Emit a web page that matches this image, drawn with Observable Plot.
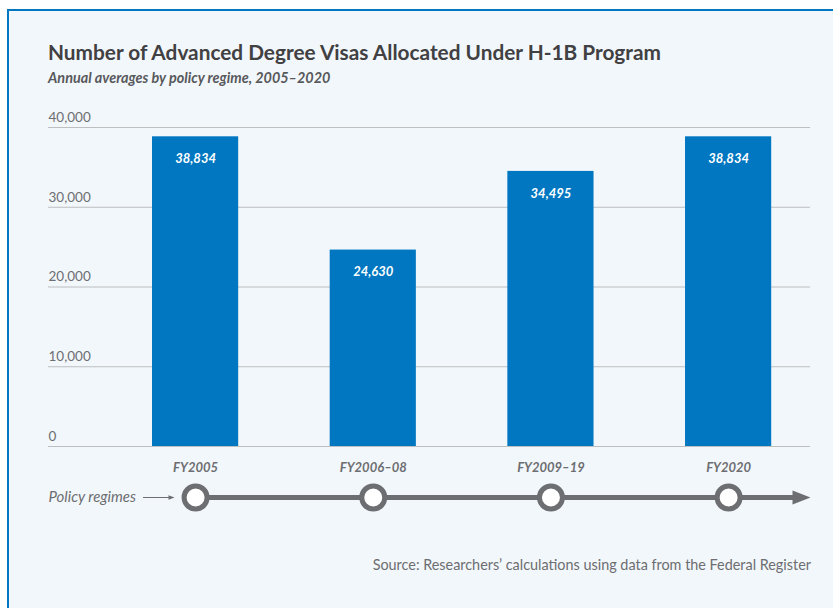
<!DOCTYPE html>
<html>
<head>
<meta charset="utf-8">
<script src="https://cdn.jsdelivr.net/npm/d3@7"></script>
<script src="https://cdn.jsdelivr.net/npm/@observablehq/plot@0.6"></script>
<style>
  html, body { margin: 0; padding: 0; background: #ffffff; width: 833px; height: 608px; overflow: hidden; font-family: Lato, "Noto Sans", sans-serif; }
  #card { position: absolute; left: 7px; top: 9px; width: 900px; height: 700px; border-left: 2px solid #0077c0; border-top: 2px solid #0077c0; background: #f2f7fb; }
  #title { position: absolute; left: 48px; top: 39px; font-size: 20.8px; font-weight: 700; color: #414042; white-space: nowrap; }
  #subtitle { position: absolute; left: 48px; top: 69px; font-size: 14.4px; font-style: italic; font-weight: 700; color: #58595b; white-space: nowrap; }
  #source { position: absolute; right: 22px; top: 556px; font-size: 14.4px; color: #6d6e71; white-space: nowrap; }
  #main, #timeline { position: absolute; left: 0; }
  #main { top: 0; }
  #timeline { top: 467px; }
</style>
</head>
<body>
<div id="card"></div>
<div id="title">Number of Advanced Degree Visas Allocated Under H-1B Program</div>
<div id="subtitle">Annual averages by policy regime, 2005–2020</div>
<div id="main"></div>
<div id="timeline"></div>
<div id="source">Source: Researchers’ calculations using data from the Federal Register</div>
<script>
// ---- data ----
const regimes = ["FY2005", "FY2006–08", "FY2009–19", "FY2020"];
const visas = [38834, 24630, 34495, 38834];
const yTicks = [0, 10000, 20000, 30000, 40000];
const rowLabel = "Policy regimes";

const data = regimes.map((r, i) => ({regime: r, visas: visas[i]}));
const fmt = d3.format(",");

const gray = "#6d6e71";
const blue = "#0077c0";
const font = "Lato, 'Noto Sans', sans-serif";

const W = 833, ML = 48, MR = 23;
const xRange = [60.5, 862.7];
const xPadding = 0.515;
const xScale = {type: "band", domain: regimes, range: xRange, padding: xPadding, round: false};
const band = d3.scaleBand().domain(regimes).range(xRange).padding(xPadding);
const bw = band.bandwidth();
const headLen = 18;
const lastBandEnd = band(regimes[regimes.length - 1]) + bw;
const lineInsetRight = lastBandEnd - (W - MR - headLen + 4);

// right-pointing filled triangle symbol
const headSymbol = {
  draw(context, size) {
    const k = Math.sqrt(size / Math.PI);
    context.moveTo(k, 0);
    context.lineTo(-k, -k * 0.78);
    context.lineTo(-k, k * 0.78);
    context.closePath();
  }
};

const main = Plot.plot({
  width: W,
  height: 490,
  marginTop: 127,
  marginBottom: 44,
  marginLeft: ML,
  marginRight: MR,
  style: {background: "transparent", fontFamily: font, overflow: "visible"},
  x: xScale,
  y: {domain: [0, 40000]},
  marks: [
    Plot.ruleY(yTicks, {stroke: "#bcbec0", strokeWidth: 1}),
    Plot.barY(data, {x: "regime", y: "visas", fill: blue}),
    Plot.text(data, {x: "regime", y: "visas", text: d => fmt(d.visas), dy: 22, fill: "white",
      fontSize: 13, fontStyle: "italic", fontWeight: 700}),
    Plot.axisY({ticks: yTicks, tickSize: 0, tickPadding: 0, tickFormat: fmt, textAnchor: "start",
      dy: -10, fontSize: 13.5, fill: gray, label: null}),
    Plot.axisX({tickSize: 0, tickPadding: 16, fontSize: 13, fontStyle: "italic", fontWeight: 700,
      fill: gray, label: null})
  ]
});
document.getElementById("main").append(main);

const timeline = Plot.plot({
  width: W,
  height: 60,
  marginTop: 0,
  marginBottom: 0,
  marginLeft: ML,
  marginRight: MR,
  style: {background: "transparent", fontFamily: font, overflow: "visible"},
  x: {...xScale, axis: null},
  y: {type: "point", domain: [rowLabel], axis: null},
  marks: [
    Plot.ruleY([rowLabel], {y: d => d, x1: () => regimes[0], x2: () => regimes[regimes.length - 1],
      insetLeft: bw / 2, insetRight: lineInsetRight, stroke: gray, strokeWidth: 5}),
    Plot.dot([rowLabel], {y: d => d, frameAnchor: "right", symbol: headSymbol, r: headLen / 2,
      dx: -headLen / 2, fill: gray}),
    Plot.dot(regimes, {x: d => d, y: () => rowLabel, r: 11.5, fill: "white", stroke: gray, strokeWidth: 5}),
    Plot.text([rowLabel], {y: d => d, frameAnchor: "left", text: d => d, textAnchor: "start",
      fontStyle: "italic", fontSize: 15, fill: gray}),
    Plot.ruleY([rowLabel], {y: d => d, insetLeft: 95, insetRight: 641, stroke: gray, strokeWidth: 1}),
    Plot.dot([rowLabel], {y: d => d, frameAnchor: "left", symbol: headSymbol, r: 3, dx: 123, fill: gray})
  ]
});
document.getElementById("timeline").append(timeline);
</script>
</body>
</html>
